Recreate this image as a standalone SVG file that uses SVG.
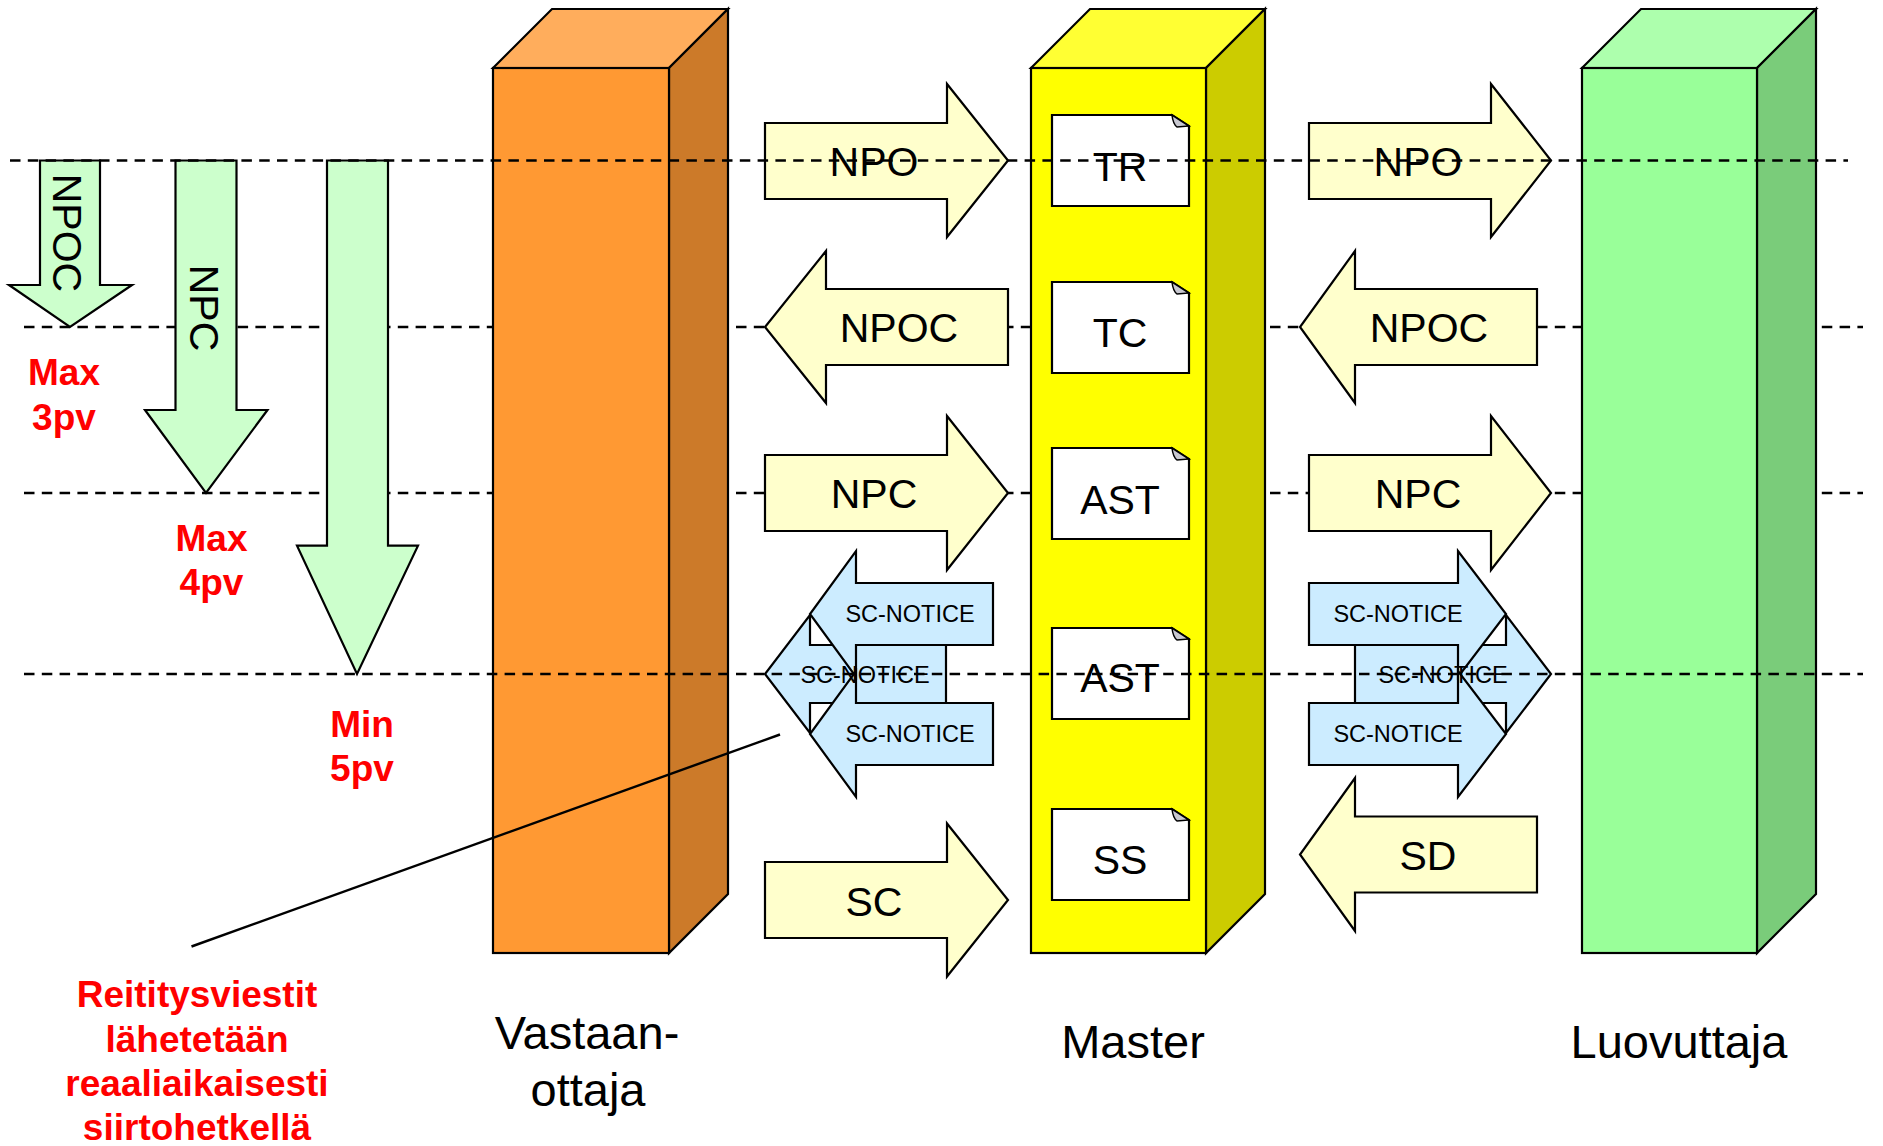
<svg xmlns="http://www.w3.org/2000/svg" width="1883" height="1146" viewBox="0 0 1883 1146">
<style>
.ol{stroke:#000;stroke-width:2.2;stroke-linejoin:miter}
.dl{stroke:#000;stroke-width:2.6;stroke-dasharray:10.5 7.3;fill:none}
.ya{fill:#FFFFCC}
.ba{fill:#CCECFF}
.ga{fill:#CCFFCC}
.t{font-family:"Liberation Sans",Arial,sans-serif;fill:#000;text-anchor:middle}
.big{font-size:41px}
.sm{font-size:23.5px}
.lab{font-size:47px}
.red{font-family:"Liberation Sans",Arial,sans-serif;font-weight:bold;font-size:37px;fill:#FF0000;text-anchor:middle}
</style>
<defs>
<g id="doc">
<path class="ol" fill="#FFFFFF" d="M0,0 H120 L137,11 V91 H0 Z"/>
<path stroke="#000" stroke-width="1.5" fill="#C8C8D0" d="M120,0 L137,11 L125,12 Q121,9 120,0 Z"/>
</g>
</defs>
<g id="connectors-back">
<line class="dl" x1="24" y1="327" x2="1863" y2="327"/>
<line class="dl" x1="24" y1="493" x2="1863" y2="493"/>
</g>
<g id="vastaanottaja">
<polygon class="ol" fill="#FFAD5C" points="493,68 552,9 728,9 669,68"/>
<polygon class="ol" fill="#CC7A29" points="669,68 728,9 728,894 669,953"/>
<rect class="ol" fill="#FF9933" x="493" y="68" width="176" height="885"/>
<text class="t lab" x="587" y="1049">Vastaan-</text>
<text class="t lab" x="588" y="1106">ottaja</text>
</g>
<g id="master">
<polygon class="ol" fill="#FFFF33" points="1031,68 1090,9 1265,9 1206,68"/>
<polygon class="ol" fill="#CCCC00" points="1206,68 1265,9 1265,894 1206,953"/>
<rect class="ol" fill="#FFFF00" x="1031" y="68" width="175" height="885"/>
<text class="t lab" x="1133" y="1058">Master</text>
</g>
<g id="luovuttaja">
<polygon class="ol" fill="#ADFFAD" points="1582,68 1641,9 1816,9 1757,68"/>
<polygon class="ol" fill="#7ACC7A" points="1757,68 1816,9 1816,894 1757,953"/>
<rect class="ol" fill="#99FF99" x="1582" y="68" width="175" height="885"/>
<text class="t lab" x="1679" y="1058">Luovuttaja</text>
</g>
<g id="doc-tr"><use href="#doc" x="1052" y="115"/><text class="t big" x="1120" y="180.5">TR</text></g>
<g id="doc-tc"><use href="#doc" x="1052" y="282"/><text class="t big" x="1120" y="347">TC</text></g>
<g id="doc-ast1"><use href="#doc" x="1052" y="448"/><text class="t big" x="1120" y="513.5">AST</text></g>
<g id="doc-ast2"><use href="#doc" x="1052" y="628"/><text class="t big" x="1120" y="692">AST</text></g>
<g id="doc-ss"><use href="#doc" x="1052" y="809"/><text class="t big" x="1120" y="874">SS</text></g>
<g id="down-npoc">
<polygon class="ol ga" points="40,160.5 100,160.5 100,285 132,285 70,327 9,285 40,285"/>
<text class="t big" transform="translate(53,233) rotate(90)">NPOC</text>
</g>
<g id="down-npc">
<polygon class="ol ga" points="175.5,160.5 236.5,160.5 236.5,410 267.5,410 206,493 145,410 175.5,410"/>
<text class="t big" transform="translate(190,308) rotate(90)">NPC</text>
</g>
<g id="down-min">
<polygon class="ol ga" points="327,160.5 388,160.5 388,545.6 418,545.6 357,674 297,545.6 327,545.6"/>
</g>
<g id="red-max3">
<text class="red" x="64" y="385">Max</text>
<text class="red" x="64" y="430">3pv</text>
</g>
<g id="red-max4">
<text class="red" x="211.5" y="551">Max</text>
<text class="red" x="211.5" y="595">4pv</text>
</g>
<g id="red-min5">
<text class="red" x="362" y="737">Min</text>
<text class="red" x="362" y="781">5pv</text>
</g>
<g id="red-note">
<text class="red" x="197" y="1007">Reititysviestit</text>
<text class="red" x="197" y="1052">lähetetään</text>
<text class="red" x="197" y="1096">reaaliaikaisesti</text>
<text class="red" x="197" y="1140">siirtohetkellä</text>
</g>
<g id="arrow-npo-left">
<polygon class="ol ya" points="765,123 947,123 947,84 1008,160.5 947,237 947,199 765,199"/>
<text class="t big" x="874" y="176">NPO</text>
</g>
<g id="arrow-npoc-left">
<polygon class="ol ya" points="1008,289 826,289 826,251 765,327 826,403 826,365 1008,365"/>
<text class="t big" x="899" y="342">NPOC</text>
</g>
<g id="arrow-npc-left">
<polygon class="ol ya" points="765,455 947,455 947,416 1008,493 947,570 947,531 765,531"/>
<text class="t big" x="874" y="508">NPC</text>
</g>
<g id="arrow-sc">
<polygon class="ol ya" points="765,862 947,862 947,823.5 1008,900 947,976.5 947,938 765,938"/>
<text class="t big" x="874" y="915.5">SC</text>
</g>
<g id="arrow-npo-right">
<polygon class="ol ya" points="1309,123 1491,123 1491,84 1551,160.5 1491,237 1491,199 1309,199"/>
<text class="t big" x="1418" y="176">NPO</text>
</g>
<g id="arrow-npoc-right">
<polygon class="ol ya" points="1537,289 1355,289 1355,251 1300,327 1355,403 1355,365 1537,365"/>
<text class="t big" x="1429" y="342">NPOC</text>
</g>
<g id="arrow-npc-right">
<polygon class="ol ya" points="1309,455 1491,455 1491,416 1551,493 1491,570 1491,531 1309,531"/>
<text class="t big" x="1418" y="508">NPC</text>
</g>
<g id="arrow-sd">
<polygon class="ol ya" points="1537,816.5 1355,816.5 1355,778 1300,854.5 1355,931 1355,892.5 1537,892.5"/>
<text class="t big" x="1428" y="870">SD</text>
</g>
<g id="scnotice-left">
<polygon class="ol ba" points="946,645 810,645 810,615 765,674 810,733 810,703 946,703"/>
<polygon class="ol ba" points="993,583 856,583 856,551 810,614 856,677 856,645 993,645"/>
<polygon class="ol ba" points="993,703 856,703 856,671 810,734 856,797 856,765 993,765"/>
<text class="t sm" x="910" y="622">SC-NOTICE</text>
<text class="t sm" x="910" y="742">SC-NOTICE</text>
<text class="t sm" x="865" y="683">SC-NOTICE</text>
</g>
<g id="scnotice-right">
<polygon class="ol ba" points="1355,645 1506,645 1506,615 1551,674 1506,733 1506,703 1355,703"/>
<polygon class="ol ba" points="1309,583 1458,583 1458,551 1506,614 1458,677 1458,645 1309,645"/>
<polygon class="ol ba" points="1309,703 1458,703 1458,671 1506,734 1458,797 1458,765 1309,765"/>
<text class="t sm" x="1398" y="622">SC-NOTICE</text>
<text class="t sm" x="1398" y="742">SC-NOTICE</text>
<text class="t sm" x="1443" y="683">SC-NOTICE</text>
</g>
<g id="connectors">
<line x1="191.5" y1="946.5" x2="780" y2="734.5" stroke="#000" stroke-width="2.4"/>
<line class="dl" x1="10" y1="160.5" x2="1848" y2="160.5"/>
<line class="dl" x1="24" y1="674" x2="1863" y2="674"/>
</g>
</svg>
